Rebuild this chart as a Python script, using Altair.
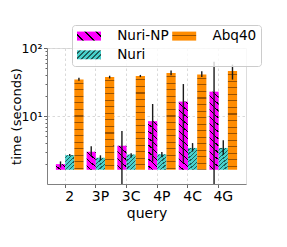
import math
import altair as alt
import pandas as pd

# ---------------- data ----------------
queries = ["2", "3P", "3C", "4P", "4C", "4G"]
series = ["Nuri-NP", "Nuri", "Abq40"]

np_mean = [1.96, 2.98, 3.64, 8.4, 16.3, 22.8]
np_lo = [1.75, 2.56, 1.0, 2.13, 2.03, 1.0]
np_hi = [2.15, 3.6, 6.0, 15.0, 29.5, 63.0]

nuri_mean = [2.66, 2.43, 2.72, 2.74, 3.39, 3.39]
nuri_lo = [2.57, 2.24, 2.45, 2.48, 3.0, 2.7]
nuri_hi = [2.77, 2.64, 2.84, 2.95, 4.0, 4.4]

abq_mean = [34.4, 37.6, 38.6, 42.9, 40.6, 45.9]
abq_lo = [32.9, 35.7, 37.3, 39.7, 37.6, 34.3]
abq_hi = [36.5, 39.1, 40.2, 46.5, 45.4, 57.0]

# ---------------- styling / layout ----------------
YMIN, YMAX = 1.62, 100.0
PLOT_W, PLOT_H = 199, 136
PAD_IN, PAD_OUT = 0.1, 0.29
FONT = "DejaVu Sans"

style = {
    "Nuri-NP": dict(base="#ff00ff", line="#000000", kind="b", period=7.8, lw=0.9),
    "Nuri": dict(base="#48d1cc", line="#1f5e5a", kind="f", period=4.4, lw=0.9),
    "Abq40": dict(base="#ff8c00", line="#9a5200", kind="h", period=7.3, lw=1.2),
}

rows = []
for name, m, lo, hi in [("Nuri-NP", np_mean, np_lo, np_hi),
                        ("Nuri", nuri_mean, nuri_lo, nuri_hi),
                        ("Abq40", abq_mean, abq_lo, abq_hi)]:
    for i, q in enumerate(queries):
        rows.append(dict(query=q, series=name, mean=m[i], lo=lo[i], hi=hi[i],
                         bar=f"{name}|{q}"))
df = pd.DataFrame(rows)


def f5(x):
    return f"{x:.5f}"


def grad_expr(base, line, kind, w, h, period, lw):
    """Vega expression building a striped linear gradient (hatch look)."""
    if kind == "h":
        extent = h
        coords = ("0", "0", "0.0001", "1")
        line_t = lw / extent
    else:
        extent = w + h
        k = (w + h) / (w * w + h * h)
        if kind == "b":
            coords = ("0", "1", f5(w * k), f5(1 - h * k))
        else:
            coords = ("0", "0", f5(w * k), f5(h * k))
        line_t = lw * math.sqrt(2) / extent
    pt = period / extent
    stops = [(0.0, base)]
    s = pt * 0.5
    while s < 1:
        e = min(s + line_t, 1.0)
        stops += [(s, base), (s, line), (e, line), (e, base)]
        s += pt
    stops.append((1.0, base))
    st = ",".join("{offset:%s,color:'%s'}" % (f5(o), c) for o, c in stops)
    return ("{gradient:'linear',x1:%s,y1:%s,x2:%s,y2:%s,stops:[%s]}"
            % (coords[0], coords[1], coords[2], coords[3], st))


step = PLOT_W / (len(queries) - PAD_IN + 2 * PAD_OUT)
bar_w = step * (1 - PAD_IN) / len(series)


def px_h(v):
    return PLOT_H * (math.log10(v) - math.log10(YMIN)) / (math.log10(YMAX) - math.log10(YMIN))


bar_ids = list(df["bar"])
bar_grads = []
for _, r in df.iterrows():
    s = style[r["series"]]
    bar_grads.append({"expr": grad_expr(s["base"], s["line"], s["kind"], bar_w,
                                        px_h(r["mean"]), s["period"], s["lw"])})

# Vega fills legend columns top-to-bottom
legend_order = ["Nuri-NP", "Nuri", "Abq40"]
legend_period = {"Nuri-NP": 11.0, "Nuri": 5.0, "Abq40": 7.3}
legend_grads = []
for name in legend_order:
    s = style[name]
    legend_grads.append({"expr": grad_expr(s["base"], s["line"], s["kind"], 24, 9,
                                           legend_period[name], s["lw"])})

x_enc = alt.X(
    "query:N", sort=queries,
    scale=alt.Scale(paddingInner=PAD_IN, paddingOuter=PAD_OUT),
    axis=alt.Axis(title="query", labelAngle=0, bandPosition=1 / 3,
                  labelFont=FONT, labelFontSize=14, labelColor="black", labelPadding=2,
                  titleFont=FONT, titleFontSize=14, titleFontWeight="normal",
                  titleColor="black", titlePadding=3,
                  tickSize=3.5, tickColor="#666666", domainColor="#808080",
                  grid=True, gridColor="#d0d0d0", gridDash=[2.5, 2.5], gridWidth=0.8),
)
xoff_enc = alt.XOffset("series:N", sort=series,
                       scale=alt.Scale(domain=series, paddingInner=0, paddingOuter=0))

y_scale = alt.Scale(type="log", domain=[YMIN, YMAX])
y_axis = alt.Axis(
    title="time (seconds)",
    values=[2, 3, 4, 5, 6, 7, 8, 9, 10, 20, 30, 40, 50, 60, 70, 80, 90, 100],
    labelExpr="datum.value == 100 ? '10²' : (datum.value == 10 ? '10¹' : '')",
    labelFont=FONT, labelFontSize=12.5, labelColor="black", labelPadding=1.5,
    titleFont=FONT, titleFontSize=13, titleFontWeight="normal", titleColor="black",
    titlePadding=-2.4,
    tickSize={"condition": {"test": "datum.value == 10 || datum.value == 100", "value": 3.5},
              "value": 2},
    tickColor="#666666", domainColor="#808080",
    grid=True, gridColor="#d0d0d0", gridDash=[2.5, 2.5], gridWidth=0.8,
    gridOpacity={"condition": {"test": "datum.value == 10 || datum.value == 100", "value": 1},
                 "value": 0},
)

bars = alt.Chart(df).mark_bar().encode(
    x=x_enc,
    xOffset=xoff_enc,
    y=alt.Y("mean:Q", scale=y_scale, axis=y_axis),
    y2=alt.datum(YMIN),
    fill=alt.Fill("bar:N", scale=alt.Scale(domain=bar_ids, range=bar_grads), legend=None),
)

errs = alt.Chart(df).mark_rule(color="#1a1a1a", strokeWidth=1.4, clip=True).encode(
    x=alt.X("query:N", sort=queries),
    xOffset=alt.XOffset("series:N", sort=series),
    y=alt.Y("lo:Q"),
    y2="hi:Q",
)

legend_layer = alt.Chart(df).mark_bar().encode(
    color=alt.Color(
        "series:N",
        scale=alt.Scale(domain=legend_order, range=legend_grads),
        legend=alt.Legend(
            title=None, orient="none", legendX=25, legendY=-23, columns=2,
            symbolType="M-2.6667,-1H2.6667V1H-2.6667Z", symbolSize=81,
            symbolOffset=6.2,
            symbolStrokeWidth=0, symbolStrokeColor="transparent",
            labelFont=FONT, labelFontSize=13.6, labelColor="black", labelOffset=21.4,
            columnPadding=2.2, rowPadding=4, padding=4,
            fillColor="rgba(255,255,255,0.8)", strokeColor="#cccccc", cornerRadius=3,
        ),
    )
).transform_filter("false")

chart = alt.layer(bars, errs, legend_layer).properties(
    width=PLOT_W, height=PLOT_H,
    autosize=alt.AutoSizeParams(type="none"),
    padding={"left": 39, "top": 40, "right": 33, "bottom": 55},
).configure_view(stroke="#808080", strokeWidth=1).configure(font=FONT)

chart.save("out.html", embed_options={"renderer": "svg", "actions": False})
